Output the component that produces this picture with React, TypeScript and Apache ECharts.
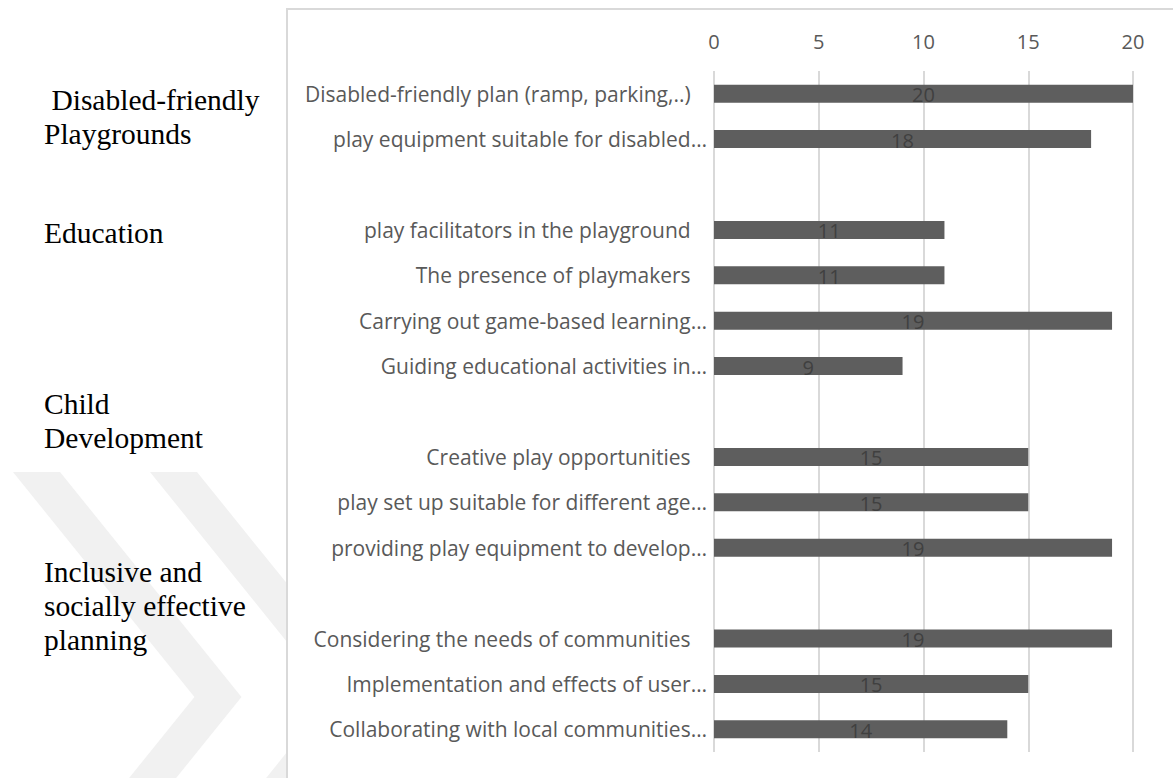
import React, { useEffect, useRef } from "react";
import * as echarts from "echarts";

const categories: string[] = [
  "Disabled-friendly plan (ramp, parking,..) ",
  "play equipment suitable for disabled…",
  "",
  "play facilitators in the playground ",
  "The presence of playmakers ",
  "Carrying out game-based learning…",
  "Guiding educational activities in…",
  "",
  "Creative play opportunities ",
  "play set up suitable for different age…",
  "providing play equipment to develop…",
  "",
  "Considering the needs of communities ",
  "Implementation and effects of user…",
  "Collaborating with local communities…",
];

const values: (number | string)[] = [20, 18, "-", 11, 11, 19, 9, "-", 15, 15, 19, "-", 19, 15, 14];

const tickMin = 0;
const tickMax = 20;
const tickStep = 5;

const groupLabels: string[] = [
  " Disabled-friendly\nPlaygrounds",
  "Education",
  "Child\nDevelopment",
  "Inclusive and\nsocially effective\nplanning",
];

const groupTops = [83, 216, 387, 555];

export default function App() {
  const ref = useRef<HTMLDivElement>(null);
  useEffect(() => {
    if (!ref.current) return;
    const chart = echarts.init(ref.current, null, { renderer: "svg" });
    const sansFont = "'Open Sans', Lato, sans-serif";
    const slope = 1.24;
    const chev = (x0: number, w: number) => {
      const y0 = 472;
      const tipY = 697;
      const dx = (tipY - y0) / slope;
      return [
        [x0, y0],
        [x0 + w, y0],
        [x0 + w + dx, tipY],
        [x0 + w, tipY + (tipY - y0)],
        [x0, tipY + (tipY - y0)],
        [x0 + dx, tipY],
      ];
    };
    const borderX = 287;
    const c2x = 150;
    const c2w = 47;
    const yAt = (x0: number, x: number) => 472 + slope * (x - x0);
    const c2upper = [
      [c2x, 472],
      [c2x + c2w, 472],
      [borderX, yAt(c2x + c2w, borderX)],
      [borderX, yAt(c2x, borderX)],
    ];
    const dxTip = (697 - 472) / slope;
    const innerTipX = c2x + dxTip;
    const outerTipX = c2x + c2w + dxTip;
    const c2lower = [
      [borderX, 697 + slope * (innerTipX - borderX)],
      [borderX, 697 + slope * (outerTipX - borderX)],
      [c2x + c2w, 922],
      [c2x, 922],
    ];
    const wm = { fill: "#f1f1f1" };

    const groupGraphics: any[] = groupLabels.map((g, i) => ({
      type: "text",
      x: 44,
      y: groupTops[i],
      z: 10,
      style: {
        text: g.replace(/^ /, "\u00a0"),
        fontFamily: "'Liberation Serif', 'Times New Roman', serif",
        fontSize: 29.5,
        lineHeight: 34,
        fill: "#000000",
        verticalAlign: "top",
        align: "left",
      },
    }));

    chart.setOption({
      animation: false,
      backgroundColor: "#ffffff",
      graphic: [
        { type: "polygon", z: 0, shape: { points: chev(13, 47) }, style: wm, silent: true },
        { type: "polygon", z: 0, shape: { points: c2upper }, style: wm, silent: true },
        { type: "polygon", z: 0, shape: { points: c2lower }, style: wm, silent: true },
        {
          type: "rect",
          z: 0,
          shape: { x: borderX, y: 9, width: 1200, height: 1000 },
          style: { fill: "none", stroke: "#d9d9d9", lineWidth: 2 },
          silent: true,
        },
        ...groupGraphics,
      ],
      grid: { left: 714, right: 40, top: 71, bottom: 26, containLabel: false },
      xAxis: {
        type: "value",
        position: "top",
        min: tickMin,
        max: tickMax,
        interval: tickStep,
        axisLine: { show: false },
        axisTick: { show: false },
        splitLine: { show: true, lineStyle: { color: "#d9d9d9", width: 2 } },
        axisLabel: { color: "#595959", fontSize: 20, fontFamily: sansFont, margin: 20 },
      },
      yAxis: {
        type: "category",
        inverse: true,
        data: categories,
        axisLine: { show: false },
        axisTick: { show: false },
        axisLabel: {
          color: "#595959",
          fontSize: 21,
          fontFamily: sansFont,
          margin: 7,
          interval: 0,
          formatter: (v: string) => (v.endsWith(" ") ? v.trimEnd() + "\u00a0\u00a0\u00a0" : v),
        },
      },
      series: [
        {
          type: "bar",
          data: values,
          barWidth: 18,
          itemStyle: { color: "#5e5e5e" },
          label: {
            show: true,
            position: "inside",
            color: "#404040",
            fontSize: 20,
            fontFamily: sansFont,
            offset: [0, 1],
          },
        },
      ],
    });
    return () => chart.dispose();
  }, []);
  return (
    <div
      ref={ref}
      style={{ position: "fixed", left: 0, top: 0, width: 1173, height: 778 }}
    />
  );
}
